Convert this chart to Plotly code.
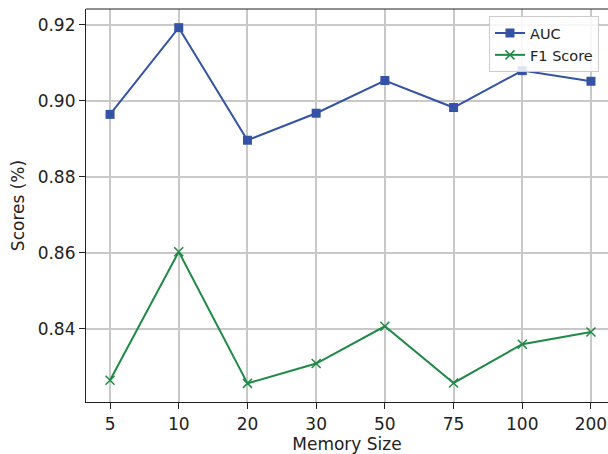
import plotly.graph_objects as go

memory_sizes = ["5", "10", "20", "30", "50", "75", "100", "200"]
auc = [0.8964, 0.9192, 0.8896, 0.8967, 0.9053, 0.8982, 0.9079, 0.9051]
f1 = [0.8265, 0.8603, 0.8257, 0.8309, 0.8407, 0.8258, 0.8360, 0.8392]

blue = "#3553a6"
green = "#1f8a45"
font = "DejaVu Sans"

fig = go.Figure()
fig.add_trace(go.Scatter(
    x=memory_sizes, y=auc, name="AUC", mode="lines+markers",
    line=dict(color=blue, width=2),
    marker=dict(symbol="square", size=9, color=blue),
))
fig.add_trace(go.Scatter(
    x=memory_sizes, y=f1, name="F1 Score", mode="lines+markers",
    line=dict(color=green, width=2),
    marker=dict(symbol="x-thin", size=9, line=dict(color=green, width=1.5), color=green),
))

fig.update_layout(
    width=608, height=454,
    margin=dict(l=86, r=0, t=9, b=52),
    paper_bgcolor="white", plot_bgcolor="white",
    font=dict(family=font, size=17, color="#222222"),
    showlegend=True,
    legend=dict(
        x=0.772, y=0.982, xanchor="left", yanchor="top",
        bgcolor="rgba(255,255,255,0.85)", bordercolor="#cccccc", borderwidth=1,
        font=dict(family=font, size=14.5, color="#222222"),
        tracegroupgap=0, itemwidth=30,
    ),
    xaxis=dict(
        type="category", range=[-0.35, 7.248],
        showgrid=True, gridcolor="#c8c8c8", gridwidth=1.5,
        showline=True, linecolor="#222222", linewidth=1.2,
        ticks="outside", ticklen=6, tickcolor="#222222",
        title=dict(text="Memory Size", standoff=6, font=dict(size=17)),
        zeroline=False,
    ),
    yaxis=dict(
        range=[0.8208, 0.9241],
        tickvals=[0.84, 0.86, 0.88, 0.90, 0.92],
        ticktext=["0.84", "0.86", "0.88", "0.90", "0.92"],
        showgrid=True, gridcolor="#c8c8c8", gridwidth=1.5,
        showline=True, linecolor="#222222", linewidth=1.2,
        ticks="outside", ticklen=6, tickcolor="#222222",
        title=dict(text="Scores (%)", standoff=8, font=dict(size=17)),
        zeroline=False,
    ),
    shapes=[dict(type="line", xref="paper", yref="paper", x0=0, x1=1, y0=1, y1=1,
                 line=dict(color="#222222", width=1.2))],
)

fig.write_html("out.html")
